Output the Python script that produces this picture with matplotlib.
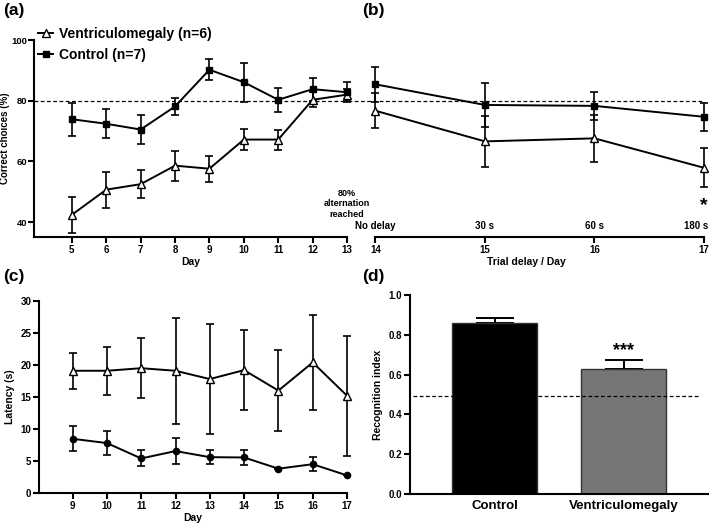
import matplotlib
matplotlib.use('Agg')
import matplotlib.pyplot as plt

# fonts / general look
plt.rcParams['font.family'] = ['Liberation Sans', 'DejaVu Sans']
plt.rcParams['font.weight'] = 'bold'
plt.rcParams['axes.labelweight'] = 'bold'
plt.rcParams['axes.linewidth'] = 1.5

# panel (a): learning days
days_a = [5, 6, 7, 8, 9, 10, 11, 12, 13]
ctrl_a = [73.9, 72.4, 70.5, 78.1, 90.2, 86.1, 80.3, 83.8, 82.8]
ctrl_a_err = [5.4, 4.75, 4.75, 2.9, 3.5, 6.4, 3.9, 3.8, 3.2]
vent_a = [42.4, 50.7, 52.5, 58.6, 57.6, 67.2, 67.2, 80.3, 82.0]
vent_a_err = [5.9, 5.9, 4.7, 4.9, 4.3, 3.5, 3.3, 2.5, 2.0]

# panel (b): trial delay
days_b = [14, 15, 16, 17]
delays_b = ['No delay', '30 s', '60 s', '180 s']
ctrl_b = [85.4, 78.6, 78.3, 74.7]
ctrl_b_err = [5.8, 7.1, 4.6, 4.7]
vent_b = [76.7, 66.6, 67.6, 57.9]
vent_b_err = [5.8, 8.3, 7.7, 6.4]

# panel (c): latency
days_c = [9, 10, 11, 12, 13, 14, 15, 16, 17]
vent_c = [19.1, 19.1, 19.5, 19.1, 17.8, 19.2, 16.0, 20.4, 15.2]
vent_c_err = [2.8, 3.75, 4.7, 8.3, 8.6, 6.2, 6.3, 7.45, 9.4]
ctrl_c = [8.47, 7.8, 5.4, 6.55, 5.6, 5.55, 3.8, 4.5, 2.75]
ctrl_c_err = [1.95, 1.85, 1.25, 2.05, 1.1, 1.2, 0.0, 1.1, 0.0]

# panel (d): recognition index
groups_d = ['Control', 'Ventriculomegaly']
ri_d = [0.861, 0.628]
ri_d_err = [0.022, 0.045]
chance_d = 0.49

W, H = 709, 525
fig = plt.figure(figsize=(W / 100, H / 100), dpi=100)


def box(l, t, r, b):
    return [l / W, 1 - b / H, (r - l) / W, (b - t) / H]


def series(ax, x, y, e, marker, mfc, ms, lw=1.4):
    ax.errorbar(x, y, yerr=e, fmt='none', ecolor='black', elinewidth=1.2,
                capsize=2.8, capthick=1.2, clip_on=False, zorder=2)
    line, = ax.plot(x, y, color='black', lw=lw, marker=marker, ms=ms,
                    mfc=mfc, mec='black', mew=1.0, clip_on=False, zorder=3)
    return line


def style(ax):
    ax.patch.set_visible(False)
    for s in ['top', 'right']:
        ax.spines[s].set_visible(False)
    ax.tick_params(width=1.5, length=4, labelsize=7, pad=1.5)


# ---- (a)
ax_a = fig.add_axes(box(34, 40, 347, 237))
style(ax_a)
ax_a.tick_params(axis='y', labelsize=6.8, pad=1)
ax_a.axhline(80, color='black', lw=0.9, ls=(0, (3, 2)), zorder=1)
lv = series(ax_a, days_a, vent_a, vent_a_err, '^', 'white', 6)
lc = series(ax_a, days_a, ctrl_a, ctrl_a_err, 's', 'black', 4.5)
ax_a.set_xlim(3.9, 13)
ax_a.set_ylim(35.1, 100)
ax_a.set_xticks(days_a)
ax_a.set_yticks([40, 60, 80, 100])
ax_a.set_xlabel('Day', fontsize=7.5, labelpad=2)
ax_a.set_ylabel('Correct choices (%)', fontsize=7, labelpad=0.5)
ax_a.text(13, 46, '80%\nalternation\nreached', ha='center', va='center',
          fontsize=6.5, linespacing=1.25, zorder=5)
ax_a.legend([lv, lc], ['Ventriculomegaly (n=6)', 'Control (n=7)'],
            loc='upper left', bbox_to_anchor=(38 / W, 1 - 27 / H),
            bbox_transform=fig.transFigure, frameon=False,
            prop=dict(size=10, weight='bold'), handlelength=1.1,
            handletextpad=0.4, labelspacing=0.5, borderpad=0,
            borderaxespad=0)

# ---- (b)
ax_b = fig.add_axes(box(348, 40, 704, 237), sharey=ax_a)
style(ax_b)
ax_b.spines['left'].set_visible(False)
ax_b.tick_params(axis='y', left=False, labelleft=False)
ax_b.axhline(80, color='black', lw=0.9, ls=(0, (3, 2)), zorder=1)
series(ax_b, days_b, ctrl_b, ctrl_b_err, 's', 'black', 4.5)
series(ax_b, days_b, vent_b, vent_b_err, '^', 'white', 6)
ax_b.set_xlim(13.75, 17)
ax_b.spines['bottom'].set_bounds(14, 17)
ax_b.set_xticks(days_b)
ax_b.set_xlabel('Trial delay / Day', fontsize=7.5, labelpad=2)
for d, lab in zip(days_b, delays_b):
    if d == days_b[-1]:
        ax_b.text(d + 0.04, 37.2, lab, ha='right', va='bottom', fontsize=7)
    else:
        ax_b.text(d, 37.2, lab, ha='center', va='bottom', fontsize=7)
ax_b.text(17, 45.5, '*', ha='center', va='center', fontsize=14)

# ---- (c)
ax_c = fig.add_axes(box(39, 301, 347, 493))
style(ax_c)
series(ax_c, days_c, vent_c, vent_c_err, '^', 'white', 6)
series(ax_c, days_c, ctrl_c, ctrl_c_err, 'o', 'black', 4.5)
ax_c.set_xlim(8.02, 17)
ax_c.set_ylim(0, 30)
ax_c.set_xticks(days_c)
ax_c.set_yticks(range(0, 31, 5))
ax_c.set_xlabel('Day', fontsize=7.5, labelpad=2)
ax_c.set_ylabel('Latency (s)', fontsize=7.5, labelpad=4)

# ---- (d)
ax_d = fig.add_axes(box(410, 295, 708, 494))
style(ax_d)
xd = range(len(groups_d))
ax_d.bar(xd, ri_d, width=0.66, color=['black', '#767676'],
         edgecolor='#333333', lw=1.0, zorder=2)
ax_d.errorbar(xd, ri_d, yerr=[[0, 0], ri_d_err], fmt='none', ecolor='black',
              elinewidth=1.4, capsize=14, capthick=1.4, zorder=1)
ax_d.axhline(chance_d, xmin=0.01, xmax=0.97, color='black', lw=0.9,
             ls=(0, (3, 2)), zorder=3)
ax_d.text(1, ri_d[1] + ri_d_err[1] + 0.005, '***', ha='center', va='bottom',
          fontsize=13)
ax_d.set_xlim(-0.66, 1.655)
ax_d.set_ylim(0, 1)
ax_d.set_yticks([0, 0.2, 0.4, 0.6, 0.8, 1.0])
ax_d.set_yticklabels(['0.0', '0.2', '0.4', '0.6', '0.8', '1.0'])
ax_d.set_xticks(list(xd))
ax_d.set_xticklabels(groups_d, fontsize=9.5)
ax_d.tick_params(axis='x', length=0, pad=4)
ax_d.set_ylabel('Recognition index', fontsize=7.5, labelpad=4)

# panel letters
for x, y, s in [(3, 11, '(a)'), (362, 11, '(b)'), (3, 277, '(c)'), (362, 277, '(d)')]:
    fig.text(x / W, 1 - y / H, s, fontsize=12.5, fontweight='bold',
             ha='left', va='center')

fig.savefig('out.png', dpi=100)
